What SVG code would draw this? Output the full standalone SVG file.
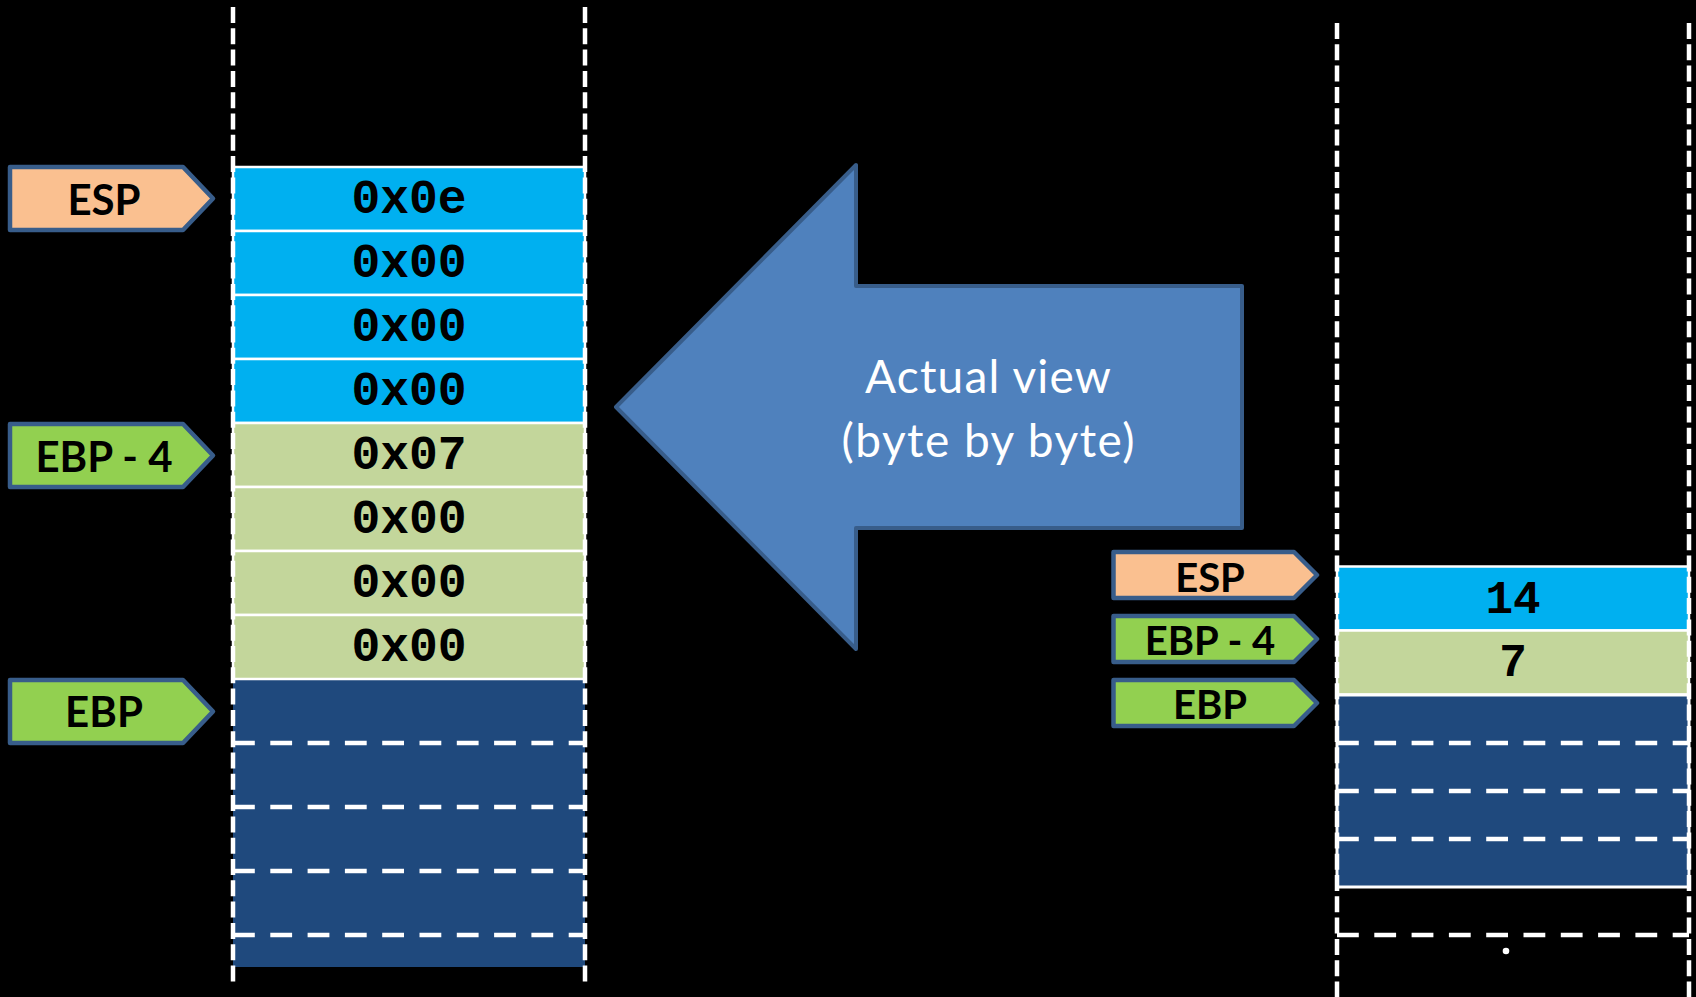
<svg xmlns="http://www.w3.org/2000/svg" width="1696" height="997" viewBox="0 0 1696 997">
<defs>
<style>
.vline{stroke:#FFFFFF;stroke-width:4.5;stroke-dasharray:16 5.3;fill:none}
.hdash{stroke:#FFFFFF;stroke-width:4.5;stroke-dasharray:21.8 15.5;fill:none}
.cell{stroke:#FFFFFF;stroke-width:2.5}
.blue{fill:#00B0F0}
.green{fill:#C3D69B}
.dark{fill:#1F497D}
.val{font-family:"Liberation Mono","Courier New",monospace;font-weight:bold;fill:#000000;text-anchor:middle}
.lab{stroke:#385D8A;stroke-width:4.5;stroke-linejoin:round}
.peach{fill:#FAC090}
.lgreen{fill:#92D050}
.labt{font-family:Lato,"Liberation Sans",sans-serif;font-weight:bold;fill:#000000;text-anchor:middle}
.arrt{font-family:Lato,"Liberation Sans",sans-serif;fill:#FFFFFF;text-anchor:middle;font-size:46px}
</style>
</defs>
<rect x="0" y="0" width="1696" height="997" fill="#000000"/>

<!-- Left stack (byte by byte) -->
<g id="left-stack">
  <rect class="dark" x="233" y="679" width="352" height="288"/>
  <rect class="cell blue" x="233" y="167" width="352" height="64"/>
  <rect class="cell blue" x="233" y="231" width="352" height="64"/>
  <rect class="cell blue" x="233" y="295" width="352" height="64"/>
  <rect class="cell blue" x="233" y="359" width="352" height="64"/>
  <rect class="cell green" x="233" y="423" width="352" height="64"/>
  <rect class="cell green" x="233" y="487" width="352" height="64"/>
  <rect class="cell green" x="233" y="551" width="352" height="64"/>
  <rect class="cell green" x="233" y="615" width="352" height="64"/>
  <line class="hdash" x1="233" y1="743" x2="585" y2="743"/>
  <line class="hdash" x1="233" y1="807" x2="585" y2="807"/>
  <line class="hdash" x1="233" y1="871" x2="585" y2="871"/>
  <line class="hdash" x1="233" y1="935" x2="585" y2="935"/>
  <line class="vline" x1="233" y1="7" x2="233" y2="982"/>
  <line class="vline" x1="585" y1="7" x2="585" y2="982"/>
  <text class="val" x="409" y="213" font-size="48">0x0e</text>
  <text class="val" x="409" y="277" font-size="48">0x00</text>
  <text class="val" x="409" y="341" font-size="48">0x00</text>
  <text class="val" x="409" y="405" font-size="48">0x00</text>
  <text class="val" x="409" y="469" font-size="48">0x07</text>
  <text class="val" x="409" y="533" font-size="48">0x00</text>
  <text class="val" x="409" y="597" font-size="48">0x00</text>
  <text class="val" x="409" y="661" font-size="48">0x00</text>
</g>

<!-- Left pointer labels -->
<g id="left-esp">
  <path class="lab peach" d="M10,167 H183 L213,198.5 L183,230 H10 Z"/>
  <text class="labt" x="104" y="215" font-size="42">ESP</text>
</g>
<g id="left-ebp-4">
  <path class="lab lgreen" d="M10,424 H183 L213,455.5 L183,487 H10 Z"/>
  <text class="labt" x="104" y="471.5" font-size="42">EBP - 4</text>
</g>
<g id="left-ebp">
  <path class="lab lgreen" d="M10,680 H183 L213,711.5 L183,743 H10 Z"/>
  <text class="labt" x="104" y="727" font-size="42">EBP</text>
</g>

<!-- Big block arrow -->
<g id="actual-view-arrow">
  <path d="M616,407 L856,165 V286 H1242 V528 H856 V649 Z" fill="#4F81BD" stroke="#385D8A" stroke-width="4" stroke-linejoin="round"/>
  <text class="arrt" x="988" y="393" textLength="246">Actual view</text>
  <text class="arrt" x="988" y="457" textLength="293">(byte by byte)</text>
</g>

<!-- Right stack (4-byte view) -->
<g id="right-stack">
  <rect class="cell blue" x="1337" y="566.5" width="352" height="64"/>
  <rect class="cell green" x="1337" y="630.5" width="352" height="64"/>
  <rect class="dark" x="1337" y="695" width="352" height="192" stroke="#FFFFFF" stroke-width="3"/>
  <line class="hdash" x1="1337" y1="743" x2="1689" y2="743"/>
  <line class="hdash" x1="1337" y1="791" x2="1689" y2="791"/>
  <line class="hdash" x1="1337" y1="839" x2="1689" y2="839"/>
  <line class="hdash" x1="1337" y1="935" x2="1689" y2="935"/>
  <line class="vline" x1="1337" y1="23" x2="1337" y2="997"/>
  <line class="vline" x1="1689" y1="23" x2="1689" y2="997"/>
  <circle cx="1506" cy="951" r="3.3" fill="#FFFFFF"/>
  <text class="val" x="1513" y="612.5" font-size="46">14</text>
  <text class="val" x="1513" y="676" font-size="46">7</text>
</g>

<!-- Right pointer labels -->
<g id="right-esp">
  <path class="lab peach" d="M1113.5,552 H1294 L1317,575 L1294,598 H1113.5 Z"/>
  <text class="labt" x="1210" y="591.5" font-size="40">ESP</text>
</g>
<g id="right-ebp-4">
  <path class="lab lgreen" d="M1113.5,616 H1294 L1317,639 L1294,662 H1113.5 Z"/>
  <text class="labt" x="1210" y="655" font-size="40">EBP - 4</text>
</g>
<g id="right-ebp">
  <path class="lab lgreen" d="M1113.5,680 H1294 L1317,703 L1294,726 H1113.5 Z"/>
  <text class="labt" x="1210" y="718.5" font-size="40">EBP</text>
</g>

<g id="connectors"></g>
</svg>
